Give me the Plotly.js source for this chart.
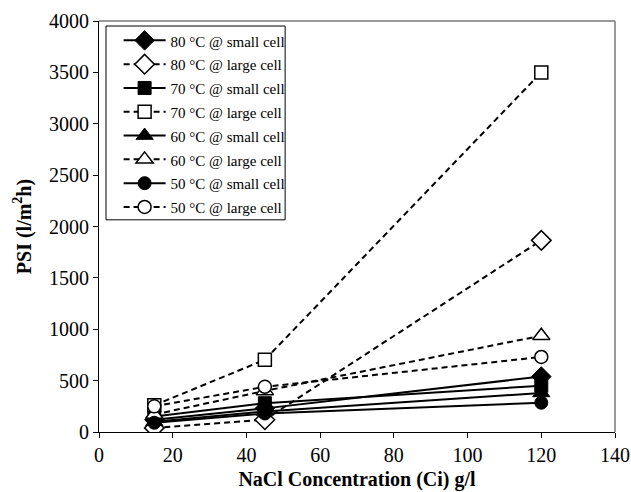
<!DOCTYPE html>
<html>
<head>
<meta charset="utf-8">
<script src="https://cdn.plot.ly/plotly-3.0.1.min.js"></script>
<style>html,body{margin:0;padding:0;background:#fff}#chart{width:631px;height:492px}</style>
</head>
<body>
<div id="chart"></div>
<script>
const concentration = [15, 45, 120];
const seriesNames = [
  "80 °C @ small cell", "80 °C @ large cell",
  "70 °C @ small cell", "70 °C @ large cell",
  "60 °C @ small cell", "60 °C @ large cell",
  "50 °C @ small cell", "50 °C @ large cell"
];
const psi80small = [120, 230, 540];
const psi80large = [40, 120, 1865];
const psi70small = [150, 280, 450];
const psi70large = [260, 703, 3500];
const psi60small = [100, 200, 380];
const psi60large = [170, 400, 937];
const psi50small = [90, 180, 285];
const psi50large = [250, 440, 730];

const values = [psi80small, psi80large, psi70small, psi70large, psi60small, psi60large, psi50small, psi50large];
const symbols = ["diamond", "diamond-open", "square", "square-open", "triangle-up", "triangle-up-open", "circle", "circle-open"];

const traces = values.map((v, i) => {
  const large = i % 2 === 1;
  const sym = symbols[i];
  let size = 13;
  if (sym.startsWith("diamond")) size = 15;
  if (sym.startsWith("triangle")) size = 15;
  return {
    x: concentration, y: v,
    name: '<span style="font-size:15px">' + seriesNames[i] + '</span>',
    type: "scatter", mode: "lines+markers",
    line: {color: "#000", width: 2, dash: large ? "6px,4px" : "solid"},
    marker: {
      symbol: large ? sym.replace("-open", "") : sym, size: size,
      color: large ? "#fff" : "#000",
      line: {color: "#000", width: large ? 1.5 : 1}
    }
  };
});

const fam = "Liberation Serif, Times New Roman, serif";
const font = {family: fam, size: 20, color: "#000"};

const layout = {
  width: 631, height: 492,
  margin: {l: 99, r: 16, t: 21, b: 60},
  paper_bgcolor: "#fff", plot_bgcolor: "#fff",
  font: font,
  showlegend: true,
  legend: {
    x: 0.038, y: 0.994, xanchor: "left", yanchor: "top",
    borderwidth: 0, bgcolor: "rgba(0,0,0,0)",
    font: {family: fam, size: 16, color: "#000"}, tracegroupgap: 0, itemwidth: 42
  },
  xaxis: {
    range: [0, 140], tickvals: [0, 20, 40, 60, 80, 100, 120, 140],
    ticks: "outside", ticklen: 5, tickwidth: 1, tickcolor: "#000",
    showline: true, linecolor: "#000", linewidth: 1, showgrid: false, zeroline: false,
    tickfont: font,
    title: {text: "<b>NaCl Concentration (Ci) g/l</b>", font: font, standoff: 6}
  },
  yaxis: {
    range: [0, 4000], tickvals: [0, 500, 1000, 1500, 2000, 2500, 3000, 3500, 4000],
    ticks: "outside", ticklen: 5, tickwidth: 1, tickcolor: "#000",
    showline: true, linecolor: "#000", linewidth: 1, showgrid: false, zeroline: false,
    tickfont: font,
    title: {text: "<b>PSI (l/m<sup>2</sup>h)</b>", font: font, standoff: 12}
  },
  shapes: [
    {type: "line", xref: "paper", yref: "paper", x0: 0, x1: 1, y0: 1, y1: 1, line: {color: "#777", width: 1.5}},
    {type: "line", xref: "paper", yref: "paper", x0: 1, x1: 1, y0: 0, y1: 1, line: {color: "#777", width: 1.5}},
    {type: "rect", xref: "x", yref: "y", x0: 1.9, x1: 50.5, y0: 2065, y1: 3951, line: {color: "#000", width: 1}, fillcolor: "#fff", layer: "below"}
  ]
};

Plotly.newPlot("chart", traces, layout, {displayModeBar: false, staticPlot: true});
</script>
</body>
</html>
